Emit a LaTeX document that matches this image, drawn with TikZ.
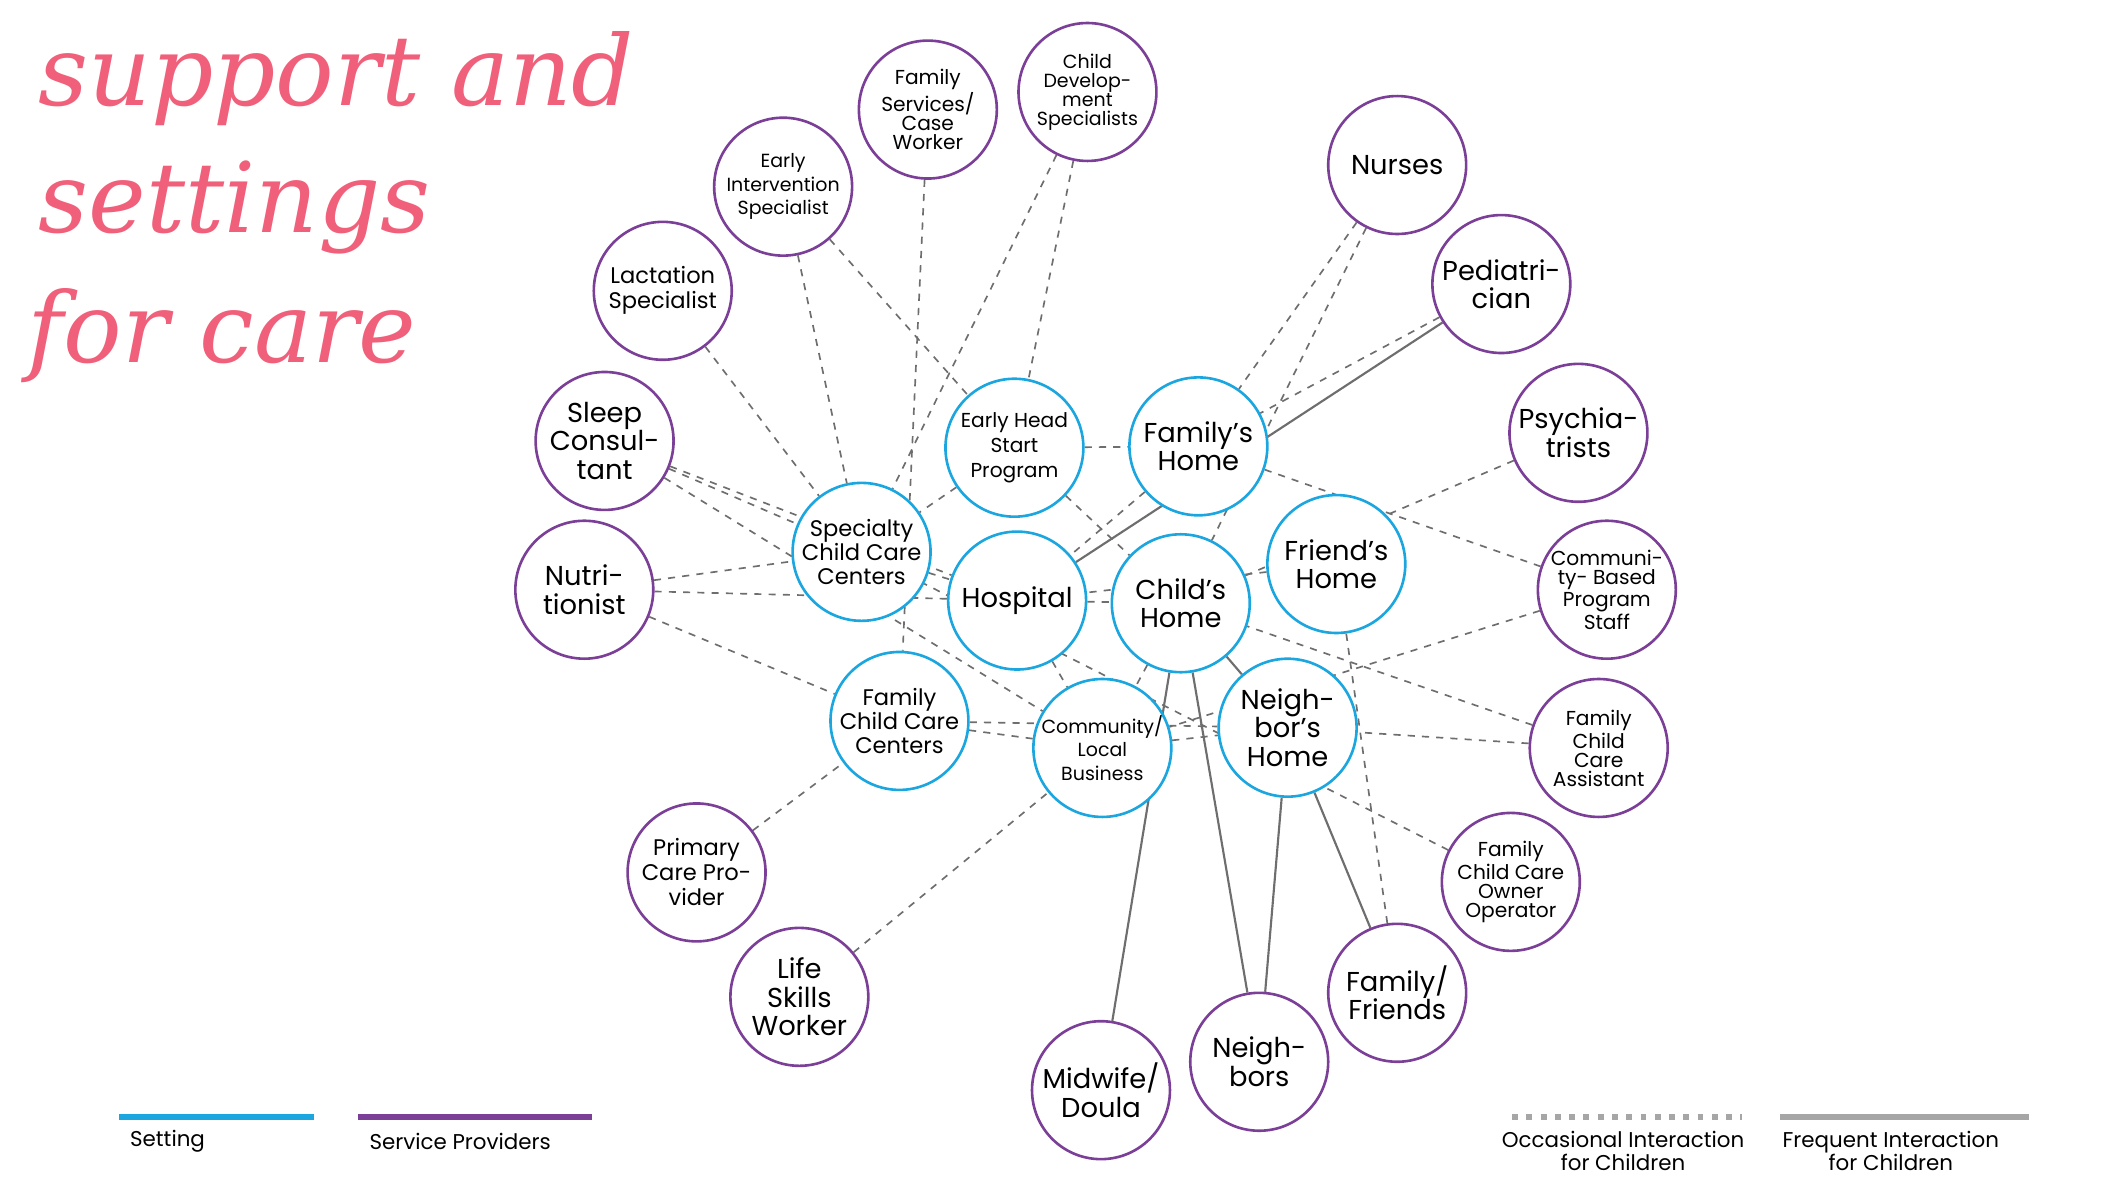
\documentclass[tikz,border=0pt]{standalone}
\usepackage{fontspec}
\setmainfont{Poppins}
\newfontfamily\titlefont{DejaVu Serif}
\pgfdeclarelayer{background}
\pgfsetlayers{background,main}
\definecolor{setblue}{HTML}{1BA6DF}
\definecolor{provpurple}{HTML}{7B3F98}
\definecolor{linegray}{HTML}{6E6E6E}
\definecolor{titlepink}{HTML}{F0607A}
\tikzset{
  setting/.style={circle,draw=setblue,line width=1.1pt,fill=white,minimum size=2.04cm,inner sep=0pt,align=center,font=\fontsize{11.5}{12}\selectfont},
  provider/.style={circle,draw=provpurple,line width=1.1pt,fill=white,minimum size=2.04cm,inner sep=0pt,align=center,font=\fontsize{11.5}{12}\selectfont},
  small/.style={font=\fontsize{8.5}{10.5}\selectfont},
  tight/.style={font=\fontsize{8.5}{8}\selectfont},
  occ/.style={draw=linegray,dashed,line width=0.7pt},
  freq/.style={draw=linegray,line width=0.9pt},
  title/.style={anchor=base west,inner sep=0pt,text=titlepink,font=\titlefont\itshape\fontsize{41}{41}\selectfont}
}
\begin{document}
\begin{tikzpicture}[x=0.02cm,y=-0.02cm]
  \useasboundingbox (0,0) rectangle (1560,877);
  % title
  \node[title] (t1) at (28,78) {support and};
  \node[title] (t2) at (28,172) {settings};
  \node[title] (t3) at (20,268) {for care};
  % settings
  \node[setting,small] (ehs) at (750,331) {Early Head\\Start\\Program};
  \node[setting] (fh) at (886,330) {Family's\\Home};
  \node[setting,font=\fontsize{9.5}{10}\selectfont] (scc) at (637,408) {Specialty\\Child Care\\Centers};
  \node[setting] (hosp) at (752,444) {Hospital};
  \node[setting] (ch) at (873,446) {Child's\\Home};
  \node[setting] (frh) at (988,417) {Friend's\\Home};
  \node[setting,font=\fontsize{9.5}{10}\selectfont] (fcc) at (665,533) {Family\\Child Care\\Centers};
  \node[setting,font=\fontsize{8}{10}\selectfont] (clb) at (815,553) {Community/\\Local\\Business};
  \node[setting] (nh) at (952,538) {Neigh-\\bor's\\Home};
  % service providers
  \node[provider,font=\fontsize{8}{8}\selectfont] (cds) at (804,68) {Child\\Develop-\\ment\\Specialists};
  \node[provider,tight] (fsc) at (686,81) {Family\\Services/\\Case\\Worker};
  \node[provider,font=\fontsize{8}{10}\selectfont] (eis) at (579,138) {Early\\Intervention\\Specialist};
  \node[provider,font=\fontsize{9.5}{10.5}\selectfont] (ls) at (490,215) {Lactation\\Specialist};
  \node[provider] (sc) at (447,326) {Sleep\\Consul-\\tant};
  \node[provider] (nut) at (432,436) {Nutri-\\tionist};
  \node[provider,font=\fontsize{9.5}{10.5}\selectfont] (pcp) at (515,645) {Primary\\Care Pro-\\vider};
  \node[provider] (lsw) at (591,737) {Life\\Skills\\Worker};
  \node[provider] (md) at (814,806) {Midwife/\\Doula};
  \node[provider] (nb) at (931,785) {Neigh-\\bors};
  \node[provider] (ff) at (1033,734) {Family/\\Friends};
  \node[provider,tight] (fcco) at (1117,652) {Family\\Child Care\\Owner\\Operator};
  \node[provider,tight] (fcca) at (1182,553) {Family\\Child\\Care\\Assistant};
  \node[provider,tight] (cbps) at (1188,436) {Communi-\\ty- Based\\Program\\Staff};
  \node[provider] (psy) at (1167,320) {Psychia-\\trists};
  \node[provider] (ped) at (1110,210) {Pediatri-\\cian};
  \node[provider] (nur) at (1033,122) {Nurses};
  % connectors
  \begin{pgfonlayer}{background}
  \foreach \a/\b in {cds/ehs,cds/scc,fsc/fcc,eis/scc,eis/ehs,ls/scc,sc/scc,sc/hosp,sc/clb,
      nut/scc,nut/hosp,nut/fcc,pcp/fcc,lsw/clb,nur/fh,nur/ch,ped/fh,psy/ch,cbps/fh,cbps/clb,
      fcca/ch,fcca/nh,fcco/scc,ff/frh,ehs/fh,ehs/scc,ehs/ch,fh/hosp,scc/hosp,hosp/ch,
      fcc/clb,fcc/nh,clb/nh,hosp/clb,frh/hosp,ch/clb}
    \path[occ] (\a) -- (\b);
  \foreach \a/\b in {ped/hosp,ch/md,ch/nb,nh/nb,nh/ff,ch/nh}
    \path[freq] (\a) -- (\b);
  \end{pgfonlayer}
  % legend
  \coordinate (l1a) at (88,826); \coordinate (l1b) at (232,826);
  \coordinate (l2a) at (265,826); \coordinate (l2b) at (438,826);
  \coordinate (l3a) at (1118,826); \coordinate (l3b) at (1288,826);
  \coordinate (l4a) at (1316,826); \coordinate (l4b) at (1500,826);
  \draw[setblue,line width=2.5pt] (l1a) -- (l1b);
  \draw[provpurple,line width=2.5pt] (l2a) -- (l2b);
  \draw[gray!70,line width=2.5pt,dash pattern=on 2.5pt off 3.5pt] (l3a) -- (l3b);
  \draw[gray!70,line width=2.5pt] (l4a) -- (l4b);
  \node[anchor=west,font=\fontsize{9}{10}\selectfont] (lset) at (90,844) {Setting};
  \node[anchor=west,font=\fontsize{9}{10}\selectfont] (lprov) at (267,844) {Service Providers};
  \node[align=center,font=\fontsize{9}{10}\selectfont] (locc) at (1200,851) {Occasional Interaction\\for Children};
  \node[align=center,font=\fontsize{9}{10}\selectfont] (lfreq) at (1398,851) {Frequent Interaction\\for Children};
\end{tikzpicture}
\end{document}
